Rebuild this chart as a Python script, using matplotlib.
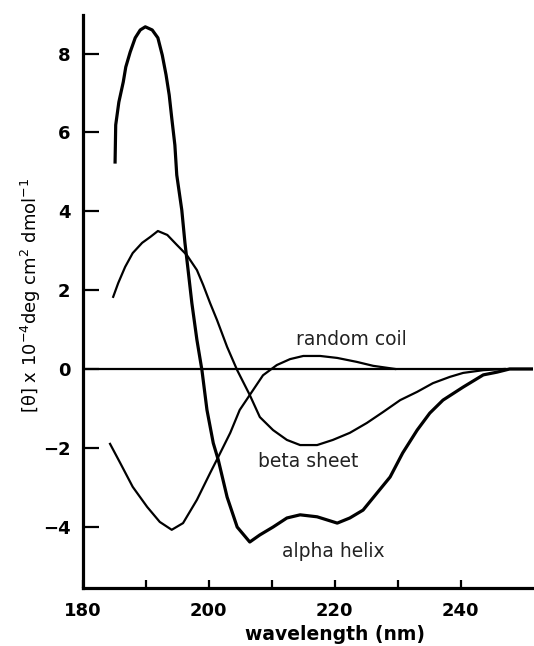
import matplotlib.pyplot as plt

# CD spectra of the three standard secondary structures
alpha_nm = [185.1, 185.2, 185.7, 186.4, 186.8, 187.5, 188.3, 189.1, 189.9, 191.0,
            191.9, 192.6, 193.2, 193.7, 194.1, 194.6, 194.9, 195.7, 196.2, 196.7,
            197.3, 198.1, 198.9, 199.7, 200.7, 201.5, 202.9, 204.5, 206.5, 208.1,
            210.2, 212.4, 214.5, 217.2, 220.4, 222.4, 224.5, 226.7, 228.8, 230.8,
            233.1, 235.1, 237.2, 240.4, 243.6, 245.8, 247.8, 251.5]
alpha_val = [5.25, 6.19, 6.77, 7.28, 7.66, 8.04, 8.40, 8.60, 8.68, 8.60,
             8.40, 7.96, 7.46, 6.95, 6.37, 5.68, 4.92, 4.03, 3.20, 2.51,
             1.67, 0.74, -0.03, -1.04, -1.88, -2.31, -3.25, -4.01, -4.39, -4.21,
             -4.01, -3.78, -3.70, -3.75, -3.91, -3.78, -3.58, -3.15, -2.74, -2.13,
             -1.55, -1.12, -0.79, -0.46, -0.15, -0.08, 0.0, 0.0]

beta_nm = [184.8, 185.6, 186.7, 187.9, 189.4, 190.7, 191.9, 193.4, 194.9, 196.5,
           198.1, 199.1, 200.2, 201.3, 202.9, 204.5, 206.5, 208.1, 210.2, 212.4,
           214.5, 217.2, 219.7, 222.4, 225.1, 227.7, 230.4, 233.1, 235.6, 238.3,
           240.4, 243.6, 247.0]
beta_val = [1.83, 2.18, 2.59, 2.94, 3.20, 3.35, 3.50, 3.40, 3.15, 2.89,
            2.51, 2.13, 1.67, 1.24, 0.56, -0.03, -0.66, -1.22, -1.55, -1.80,
            -1.93, -1.93, -1.80, -1.62, -1.37, -1.09, -0.79, -0.58, -0.36, -0.20,
            -0.10, -0.03, 0.0]

coil_nm = [184.3, 185.9, 187.9, 190.2, 192.2, 194.1, 195.9, 198.1, 200.2, 201.5,
           203.4, 204.9, 206.5, 208.6, 210.8, 212.9, 215.0, 217.7, 220.4, 223.5,
           226.1, 228.3, 229.6]
coil_val = [-1.90, -2.38, -2.99, -3.50, -3.88, -4.08, -3.91, -3.32, -2.64, -2.23,
            -1.62, -1.04, -0.66, -0.16, 0.10, 0.25, 0.33, 0.33, 0.28, 0.18,
            0.08, 0.03, 0.0]

x_ticks = [180, 190, 200, 210, 220, 230, 240]
x_tick_labels = ['180', '', '200', '', '220', '', '240']
y_ticks = [-4, -2, 0, 2, 4, 6, 8]

fig = plt.figure(figsize=(5.34, 6.46), dpi=100)
ax = fig.add_axes([0.1554, 0.0898, 0.8427, 0.887])

ax.axhline(0, color='black', lw=1.6, zorder=1)
ax.plot(alpha_nm, alpha_val, color='black', lw=2.3, solid_joinstyle='round')
ax.plot(beta_nm, beta_val, color='black', lw=1.6, solid_joinstyle='round')
ax.plot(coil_nm, coil_val, color='black', lw=1.6, solid_joinstyle='round')

ax.set_xlim(180, 251.5)
ax.set_ylim(-5.556, 8.98)

for side in ['top', 'right']:
    ax.spines[side].set_visible(False)
for side in ['left', 'bottom']:
    ax.spines[side].set_linewidth(2.3)

ax.set_xticks(x_ticks)
ax.set_xticklabels(x_tick_labels)
ax.set_yticks(y_ticks)
ax.set_yticklabels([str(v).replace('-', '\u2212') for v in y_ticks])
ax.tick_params(axis='x', direction='in', length=6, width=1.6, pad=10,
               labelsize=13)
ax.tick_params(axis='y', direction='in', length=11.5, width=1.6, pad=9,
               labelsize=13)
for lbl in ax.get_xticklabels() + ax.get_yticklabels():
    lbl.set_fontweight('bold')

ax.set_xlabel('wavelength (nm)', fontsize=13.5, fontweight='bold')
ax.xaxis.set_label_coords(0.56, -0.064)
ax.set_ylabel('[θ] x 10$^{-4}$deg cm$^{2}$ dmol$^{-1}$', fontsize=13)
ax.yaxis.set_label_coords(-0.088, 0.51)

ax.text(222.6, 0.61, 'random coil', fontsize=13.5, color='#222222',
        ha='center', va='baseline')
ax.text(215.8, -2.49, 'beta sheet', fontsize=13.5, color='#222222',
        ha='center', va='baseline')
ax.text(219.7, -4.77, 'alpha helix', fontsize=13.5, color='#222222',
        ha='center', va='baseline')

fig.savefig('out.png', dpi=100)
